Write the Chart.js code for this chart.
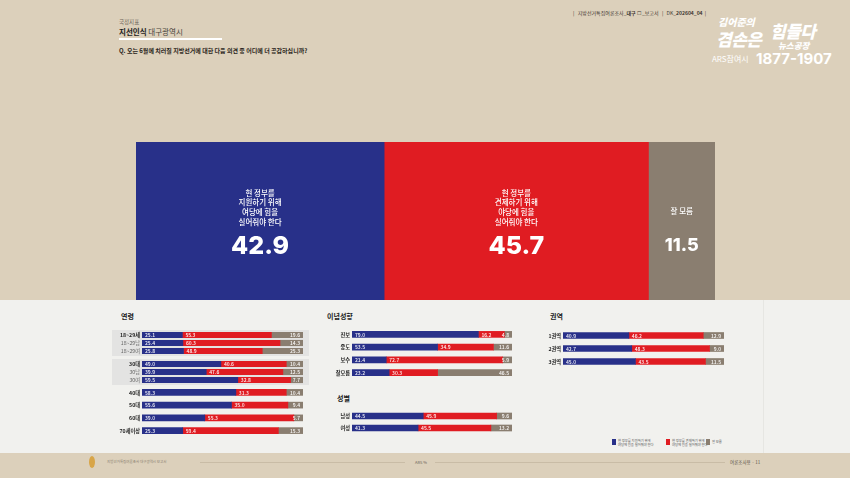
<!DOCTYPE html>
<html><head><meta charset="utf-8">
<script src="https://cdn.jsdelivr.net/npm/chart.js@4.4.1/dist/chart.umd.min.js"></script>
<style>
html,body{margin:0;padding:0;}
body{width:850px;height:478px;position:relative;overflow:hidden;background:#dcd0bb;font-family:"Noto Sans CJK KR","Noto Sans",sans-serif;}
.abs{position:absolute;white-space:nowrap;line-height:1;}
canvas{display:block;}
.cv{position:absolute;}
</style></head><body>
<!-- panel -->
<div class="abs" style="left:0;top:300px;width:850px;height:153px;background:#f1f1ee;"></div>
<div class="abs" style="left:763px;top:300px;width:1px;height:153px;background:#e6e6e2;"></div>
<div class="abs" style="left:112px;top:330px;width:197px;height:26px;background:#e3e3e2;"></div>
<div class="abs" style="left:112px;top:359px;width:197px;height:26px;background:#e3e3e2;"></div>

<!-- header left -->
<div class="abs" style="left:119px;top:20px;font-size:5.5px;color:#6d655a;">국정지표</div>
<div class="abs" style="left:119px;top:28px;font-size:7.5px;color:#1d1d1d;"><b>지선인식</b> <span style="color:#4a443c">대구광역시</span></div>
<div class="abs" style="left:119px;top:38px;width:103px;height:2px;background:#ffffff;"></div>
<div class="abs" style="left:119px;top:48px;font-size:6px;font-weight:700;color:#2a2520;">Q. 오는 6월에 치러질 지방선거에 대한 다음 의견 중 어디에 더 공감하십니까?</div>

<!-- header right -->
<div class="abs" style="left:573px;top:10px;font-size:5px;color:#3c3630;">|&nbsp;&nbsp; 지방선거특집여론조사_<b>대구</b> ☐ _보고서 &nbsp;&nbsp;|&nbsp;&nbsp; DK_<b>202604_04</b> &nbsp;|</div>
<div class="abs" style="left:718px;top:17px;font-size:10px;font-weight:900;font-style:italic;color:#ffffff;">김어준의</div>
<div class="abs" style="left:716px;top:30px;font-size:17px;font-weight:900;font-style:italic;color:#ffffff;letter-spacing:-0.5px;">겸손은</div>
<div class="abs" style="left:770px;top:22px;font-size:17px;font-weight:900;font-style:italic;color:#ffffff;letter-spacing:-0.5px;">힘들다</div>
<div class="abs" style="left:778px;top:41px;font-size:8.5px;font-weight:900;font-style:italic;color:#ffffff;">뉴스공장</div>
<div class="abs" style="left:712px;top:55px;font-size:8px;color:#ffffff;">ARS참여시</div>
<div class="abs" style="left:756px;top:51px;font-size:15px;font-weight:700;color:#ffffff;font-family:Inter,sans-serif;">1877-1907</div>

<!-- main bar -->
<canvas id="mainChart" class="cv" style="left:136px;top:142px;" width="579" height="158"></canvas>

<!-- group titles -->
<div class="abs" style="left:121px;top:313px;font-size:7px;font-weight:700;color:#222;">연령</div>
<div class="abs" style="left:327px;top:313px;font-size:7px;font-weight:700;color:#222;">이념성향</div>
<div class="abs" style="left:337px;top:395px;font-size:7px;font-weight:700;color:#222;">성별</div>
<div class="abs" style="left:550px;top:313px;font-size:7px;font-weight:700;color:#222;">권역</div>

<canvas id="cA" class="cv" style="left:110px;top:331px;" width="193" height="24"></canvas>
<canvas id="cB" class="cv" style="left:110px;top:360px;" width="193" height="24"></canvas>
<canvas id="cC" class="cv" style="left:110px;top:386px;" width="193" height="51"></canvas>
<canvas id="cD" class="cv" style="left:320px;top:328px;" width="192" height="51"></canvas>
<canvas id="cE" class="cv" style="left:320px;top:410px;" width="192" height="24"></canvas>
<canvas id="cF" class="cv" style="left:541px;top:329px;" width="183" height="39"></canvas>

<!-- legend -->
<div class="abs" style="left:612px;top:439px;width:4px;height:6px;background:#283089;"></div>
<div class="abs" style="left:618px;top:439px;font-size:3.3px;color:#555;line-height:1.1;">현 정부를 지원하기 위해<br>여당에 힘을 실어줘야 한다</div>
<div class="abs" style="left:666px;top:439px;width:4px;height:6px;background:#e01c22;"></div>
<div class="abs" style="left:672px;top:439px;font-size:3.3px;color:#555;line-height:1.1;">현 정부를 견제하기 위해<br>야당에 힘을 실어줘야 한다</div>
<div class="abs" style="left:706px;top:439px;width:4px;height:6px;background:#8a7e70;"></div>
<div class="abs" style="left:712px;top:440px;font-size:3.3px;color:#555;">잘 모름</div>

<!-- footer -->
<div class="abs" style="left:89px;top:456px;width:6px;height:12px;border-radius:50%;background:#d8a548;"></div>
<div class="abs" style="left:107px;top:460px;font-size:3.5px;color:#8a8070;">지방선거특집여론조사 대구광역시 보고서</div>
<div class="abs" style="left:200px;top:462px;width:205px;height:1px;background:#c9bca6;"></div>
<div class="abs" style="left:415px;top:460px;font-size:4px;color:#6a6257;">ARS %</div>
<div class="abs" style="left:435px;top:462px;width:290px;height:1px;background:#c9bca6;"></div>
<div class="abs" style="left:730px;top:460px;font-size:4.5px;color:#5a5248;">여론조사용 · 11</div>

<script>
// ---------- DATA ----------
const mainCategories = ['현 정부를 지원하기 위해 여당에 힘을 실어줘야 한다', '현 정부를 견제하기 위해 야당에 힘을 실어줘야 한다', '잘 모름'];
const mainLabelLines = [
  ['현 정부를', '지원하기 위해', '여당에 힘을', '실어줘야 한다'],
  ['현 정부를', '견제하기 위해', '야당에 힘을', '실어줘야 한다'],
  ['잘 모름']
];
const mainValues = [42.9, 45.7, 11.5];

const ageLabelsA = ['18~29세', '18~29남', '18~29여'];
const ageSupportA = [25.1, 25.4, 25.8];
const ageCheckA = [55.3, 60.3, 48.9];
const ageUnknownA = [19.6, 14.3, 25.3];

const ageLabelsB = ['30대', '30남', '30여'];
const ageSupportB = [49.0, 39.9, 59.5];
const ageCheckB = [40.6, 47.6, 32.8];
const ageUnknownB = [10.4, 12.5, 7.7];

const ageLabelsC = ['40대', '50대', '60대', '70세이상'];
const ageSupportC = [58.3, 55.6, 39.0, 25.3];
const ageCheckC = [31.3, 35.0, 55.3, 59.4];
const ageUnknownC = [10.4, 9.4, 5.7, 15.3];

const ideologyLabels = ['진보', '중도', '보수', '잘모름'];
const ideologySupport = [79.0, 53.5, 21.4, 23.2];
const ideologyCheck = [16.2, 34.9, 72.7, 30.3];
const ideologyUnknown = [4.8, 11.6, 5.9, 46.5];

const genderLabels = ['남성', '여성'];
const genderSupport = [44.5, 41.3];
const genderCheck = [45.9, 45.5];
const genderUnknown = [9.6, 13.2];

const regionLabels = ['1권역', '2권역', '3권역'];
const regionSupport = [40.9, 42.7, 45.0];
const regionCheck = [46.2, 48.3, 43.5];
const regionUnknown = [12.9, 9.0, 11.5];

const subRows = ['18~29남', '18~29여', '30남', '30여'];

// ---------- STYLE ----------
const BLUE = '#283089', RED = '#e01c22', GRAY = '#8a7e70';
const FONT = '"Noto Sans CJK KR","Noto Sans",sans-serif';
Chart.defaults.font.family = FONT;

// ---------- MAIN BAR ----------
const mainLabelPlugin = {
  id: 'mainLabels',
  afterDatasetsDraw(chart) {
    const ctx = chart.ctx;
    const top = chart.chartArea.top;
    ctx.save();
    ctx.fillStyle = '#ffffff';
    ctx.textAlign = 'center';
    ctx.textBaseline = 'middle';
    chart.data.datasets.forEach((ds, i) => {
      const el = chart.getDatasetMeta(i).data[0];
      const p = el.getProps(['x', 'base'], true);
      const cx = (p.x + p.base) / 2;
      const lines = mainLabelLines[i];
      ctx.font = '500 7.5px ' + FONT;
      if (lines.length === 1) {
        ctx.fillText(lines[0], cx, top + 69);
      } else {
        lines.forEach((ln, k) => ctx.fillText(ln, cx, top + 51 + k * 9.6));
      }
      ctx.font = (i === 2 ? '800 18px ' : '800 25px ') + 'Inter, sans-serif';
      ctx.fillText(ds.data[0].toFixed(1), cx, top + 104);
    });
    ctx.restore();
  }
};

const mainTotal = mainValues.reduce((a, b) => a + b, 0);
new Chart(document.getElementById('mainChart'), {
  type: 'bar',
  data: {
    labels: ['전체'],
    datasets: mainCategories.map((c, i) => ({
      label: c,
      data: [mainValues[i]],
      backgroundColor: [BLUE, RED, GRAY][i],
      borderWidth: 0,
      barPercentage: 1,
      categoryPercentage: 1
    }))
  },
  options: {
    indexAxis: 'y',
    responsive: false,
    animation: false,
    layout: { padding: 0 },
    plugins: { legend: { display: false }, tooltip: { enabled: false } },
    scales: {
      x: { stacked: true, display: false, min: 0, max: mainTotal },
      y: { stacked: true, display: false }
    }
  },
  plugins: [mainLabelPlugin]
});

// ---------- SMALL BARS ----------
const smallLabelPlugin = {
  id: 'smallLabels',
  afterDatasetsDraw(chart) {
    const ctx = chart.ctx;
    const area = chart.chartArea;
    const yScale = chart.scales.y;
    ctx.save();
    ctx.textBaseline = 'middle';
    // row labels
    chart.data.labels.forEach((lab, j) => {
      const y = yScale.getPixelForValue(j);
      const sub = subRows.includes(lab);
      ctx.fillStyle = sub ? '#666' : '#1e1e1e';
      ctx.font = (sub ? '400 ' : '700 ') + '5.2px ' + FONT;
      ctx.textAlign = 'right';
      ctx.fillText(lab, area.left - 2, y + 0.3);
    });
    // value labels
    ctx.fillStyle = 'rgba(255,255,255,0.95)';
    ctx.font = '500 5px ' + FONT;
    chart.data.datasets.forEach((ds, i) => {
      chart.getDatasetMeta(i).data.forEach((el, j) => {
        const p = el.getProps(['x', 'y', 'base'], true);
        const txt = ds.data[j].toFixed(1);
        if (i === 2) {
          ctx.textAlign = 'right';
          ctx.fillText(txt, Math.min(p.x, area.right) - 3, p.y + 0.3);
        } else {
          ctx.textAlign = 'left';
          ctx.fillText(txt, p.base + 3, p.y + 0.3);
        }
      });
    });
    ctx.restore();
  }
};

function smallChart(id, labels, s, c, u, labelW, thick) {
  new Chart(document.getElementById(id), {
    type: 'bar',
    data: {
      labels: labels,
      datasets: [s, c, u].map((d, i) => ({
        data: d,
        backgroundColor: [BLUE, RED, GRAY][i],
        borderWidth: 0,
        barThickness: thick
      }))
    },
    options: {
      indexAxis: 'y',
      responsive: false,
      animation: false,
      layout: { padding: { left: labelW, right: 0, top: 0, bottom: 0 } },
      plugins: { legend: { display: false }, tooltip: { enabled: false } },
      scales: {
        x: { stacked: true, display: false, min: 0, max: 100 },
        y: { stacked: true, display: false }
      }
    },
    plugins: [smallLabelPlugin]
  });
}

smallChart('cA', ageLabelsA, ageSupportA, ageCheckA, ageUnknownA, 32, 5.5);
smallChart('cB', ageLabelsB, ageSupportB, ageCheckB, ageUnknownB, 32, 5.5);
smallChart('cC', ageLabelsC, ageSupportC, ageCheckC, ageUnknownC, 32, 6);
smallChart('cD', ideologyLabels, ideologySupport, ideologyCheck, ideologyUnknown, 32, 6);
smallChart('cE', genderLabels, genderSupport, genderCheck, genderUnknown, 32, 6);
smallChart('cF', regionLabels, regionSupport, regionCheck, regionUnknown, 22, 6);
</script>
</body></html>
